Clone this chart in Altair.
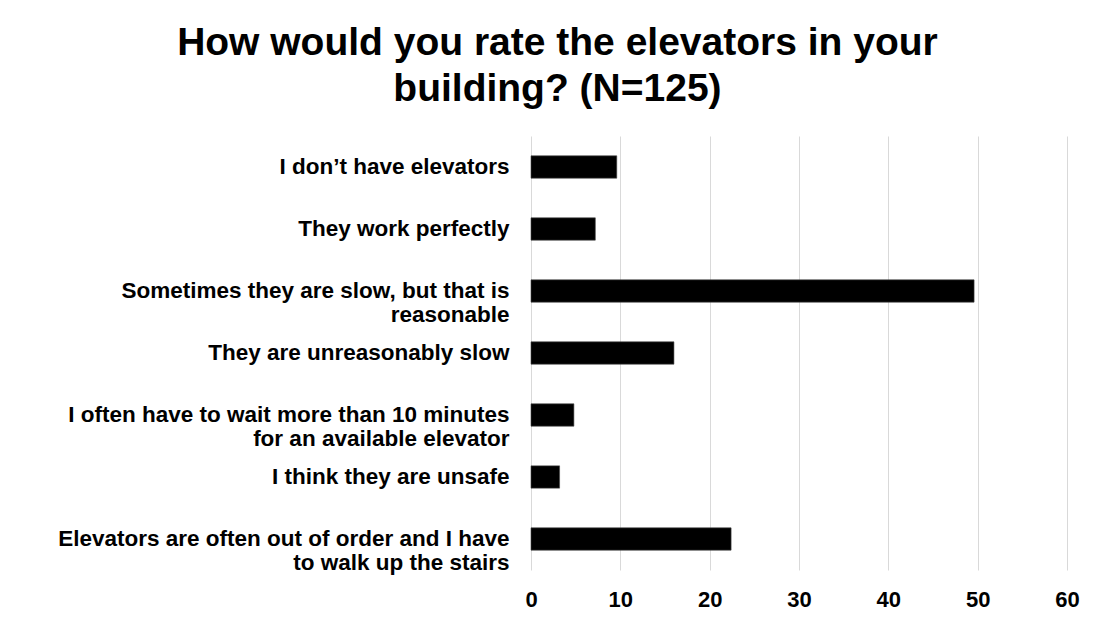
import altair as alt
import pandas as pd

categories = [
    "I don\u2019t have elevators",
    "They work perfectly",
    "Sometimes they are slow, but that is\nreasonable",
    "They are unreasonably slow",
    "I often have to wait more than 10 minutes\nfor an available elevator",
    "I think they are unsafe",
    "Elevators are often out of order and I have\nto walk up the stairs",
]
values = [9.6, 7.2, 49.6, 16.0, 4.8, 3.2, 22.4]
x_ticks = [0, 10, 20, 30, 40, 50, 60]
title_lines = ["How would you rate the elevators in your", "building? (N=125)"]

df = pd.DataFrame({"category": categories, "value": values})

FONT = "Liberation Sans"

chart = (
    alt.Chart(df)
    .mark_bar(color="black", stroke="#444444", strokeWidth=0.6)
    .encode(
        x=alt.X(
            "value:Q",
            scale=alt.Scale(domain=[0, 60], nice=False),
            axis=alt.Axis(
                values=x_ticks,
                title=None,
                grid=True,
                gridColor="#d9d9d9",
                gridWidth=1,
                domain=False,
                ticks=False,
                labelFlush=False,
                labelFont=FONT,
                labelFontWeight="bold",
                labelFontSize=22,
                labelColor="black",
                labelPadding=19,
            ),
        ),
        y=alt.Y(
            "category:N",
            sort=None,
            scale=alt.Scale(paddingInner=0.64, paddingOuter=0.32),
            axis=alt.Axis(
                title=None,
                domain=False,
                ticks=False,
                labelFont=FONT,
                labelFontWeight="bold",
                labelFontSize=22.5,
                labelColor="black",
                labelLimit=700,
                labelPadding=22,
                labelLineHeight=24,
                labelExpr="split(datum.label, '\\n')",
            ),
        ),
    )
    .properties(
        width=536,
        height=434,
        padding={"left": 49, "top": 16, "right": 5, "bottom": 5},
        title=alt.Title(
            title_lines,
            font=FONT,
            fontSize=39,
            fontWeight="bold",
            color="black",
            lineHeight=46,
            anchor="middle",
            frame="bounds",
            offset=27,
            dx=-11,
        ),
    )
    .configure_view(stroke=None)
)

chart.save("out.html", embed_options={"renderer": "svg", "actions": False})
